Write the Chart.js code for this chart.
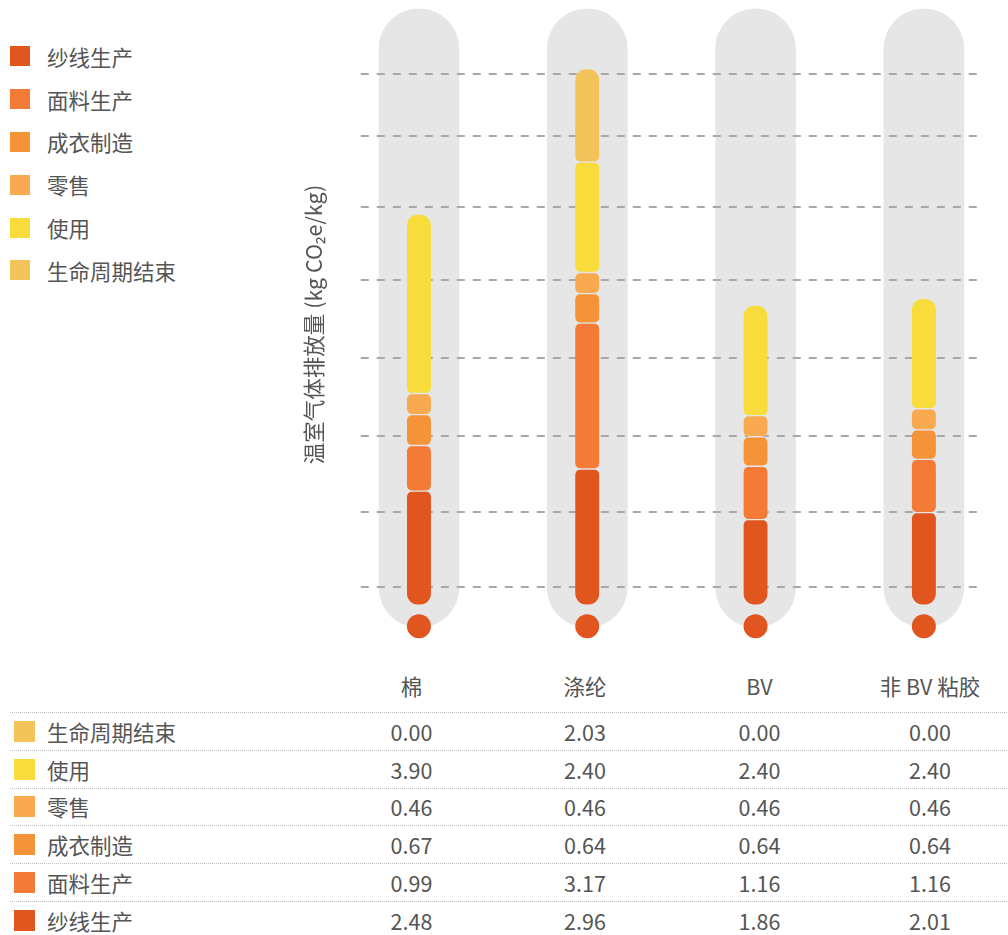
<!DOCTYPE html>
<html>
<head>
<meta charset="utf-8">
<script src="https://cdn.jsdelivr.net/npm/chart.js@4"></script>
<style>
  body { margin: 0; width: 1008px; height: 935px; overflow: hidden; position: relative; background: #fff;
         font-family: "Noto Sans CJK SC", "Noto Sans", sans-serif; color: #555; }
  #chartBox { position: absolute; left: 0; top: 0; width: 1008px; height: 642px; }
  #legend { position: absolute; left: 10px; top: 35px; }
  .item { display: flex; align-items: center; height: 42.8px; font-size: 21.5px; }
  .item .sw { width: 20px; height: 20px; margin-right: 17px; }
  #table { position: absolute; left: 10px; top: 659px; width: 1003px; font-size: 21.5px; }
  .row { display: flex; align-items: center; box-sizing: border-box; height: 37.8px; border-top: 1px dotted #bdbdbd; }
  .row.head { height: 53px; border-top: none; }
  .cell { text-align: center; }
  .label { width: 315px; display: flex; align-items: center; }
  .label .sw { width: 21px; height: 21px; margin-left: 4px; margin-right: 12px; }
</style>
</head>
<body>
<div id="legend"></div>
<div id="chartBox"><canvas id="chart"></canvas></div>
<div id="table"></div>
<script>
// data
const categories = ['棉', '涤纶', 'BV', '非 BV 粘胶'];
const stages = ['纱线生产', '面料生产', '成衣制造', '零售', '使用', '生命周期结束'];
const yarn      = [2.48, 2.96, 1.86, 2.01];
const fabric    = [0.99, 3.17, 1.16, 1.16];
const garment   = [0.67, 0.64, 0.64, 0.64];
const retail    = [0.46, 0.46, 0.46, 0.46];
const use       = [3.90, 2.40, 2.40, 2.40];
const endOfLife = [0.00, 2.03, 0.00, 0.00];
const gridValues = [0.40, 2.03, 3.68, 5.37, 7.07, 8.66, 10.20, 11.55];

const series = [yarn, fabric, garment, retail, use, endOfLife];
const colors = ['#E0561E', '#F37A37', '#F59339', '#F9AA50', '#F7DC3B', '#F2C45A'];
const pillGray = '#E6E6E6';

// legend
const legend = document.getElementById('legend');
stages.forEach((s, k) => {
  legend.innerHTML += `<div class="item"><span class="sw" style="background:${colors[k]}"></span>${s}</div>`;
});

// table (top row = last stage)
const table = document.getElementById('table');
const widths = [173, 174, 175, 166];
let html = '<div class="row head"><div class="label"></div>' +
  categories.map((c, i) => `<div class="cell" style="width:${widths[i]}px">${c}</div>`).join('') + '</div>';
for (let k = stages.length - 1; k >= 0; k--) {
  html += `<div class="row"><div class="label"><span class="sw" style="background:${colors[k]}"></span>${stages[k]}</div>` +
    series[k].map((v, i) => `<div class="cell" style="width:${widths[i]}px">${v.toFixed(2)}</div>`).join('') + '</div>';
}
table.innerHTML = html;

// rounded ends only on the outermost non-zero segments
function segRadius(ctx) {
  const i = ctx.dataIndex, d = ctx.datasetIndex;
  const filled = series.map((s, k) => s[i] > 0 ? k : -1).filter(k => k >= 0);
  const bottom = filled[0], top = filled[filled.length - 1];
  const r = 6, R = 12;
  return {
    topLeft: d === top ? R : r, topRight: d === top ? R : r,
    bottomLeft: d === bottom ? R : r, bottomRight: d === bottom ? R : r
  };
}

const segments = series.map((s, k) => ({
  label: stages[k],
  data: s.map(v => v === 0 ? null : v),
  backgroundColor: colors[k],
  borderColor: pillGray,
  borderWidth: { top: 1, bottom: 1, left: 0, right: 0 },
  borderSkipped: false,
  borderRadius: segRadius,
  barThickness: 24,
  order: 1
}));

// grey capsule behind each column
const pills = {
  label: 'bg',
  data: categories.map(() => [-0.48, 12.96]),
  stack: 'bg',
  grouped: false,
  backgroundColor: pillGray,
  borderWidth: 0,
  borderSkipped: false,
  borderRadius: 40,
  barThickness: 80,
  order: 2
};

const dots = {
  type: 'line',
  label: 'dot',
  data: categories.map(() => -0.46),
  showLine: false,
  pointRadius: 12,
  pointHoverRadius: 12,
  pointBorderWidth: 0,
  pointBackgroundColor: colors[0],
  order: 0
};

const dashLines = {
  id: 'dashLines',
  afterDatasetDraw(chart, args) {
    if (args.index !== series.length) return;
    const { ctx, chartArea } = chart;
    const y = chart.scales.y;
    ctx.save();
    ctx.strokeStyle = '#A8A8A8';
    ctx.lineWidth = 2;
    ctx.setLineDash([8, 8]);
    gridValues.forEach(v => {
      const py = Math.round(y.getPixelForValue(v));
      ctx.beginPath();
      ctx.moveTo(chartArea.left + 26, py);
      ctx.lineTo(chartArea.right - 31, py);
      ctx.stroke();
    });
    ctx.restore();
  }
};

new Chart(document.getElementById('chart'), {
  type: 'bar',
  data: { labels: categories, datasets: [...segments, pills, dots] },
  plugins: [dashLines],
  options: {
    responsive: true,
    maintainAspectRatio: false,
    animation: false,
    events: [],
    layout: { autoPadding: false, padding: { left: 301, top: 7, right: 0, bottom: 0 } },
    plugins: { legend: { display: false }, tooltip: { enabled: false } },
    scales: {
      x: { display: false, stacked: true, offset: true },
      y: {
        stacked: true,
        min: -0.8,
        max: 13,
        ticks: { display: false },
        grid: { display: false, drawTicks: false },
        border: { display: false },
        title: {
          display: true,
          text: '温室气体排放量 (kg CO₂e/kg)',
          color: '#555',
          font: { family: '"Noto Sans CJK SC", "Noto Sans", sans-serif', size: 21.5, lineHeight: 1.2 },
          padding: { top: 0, bottom: 8 }
        }
      }
    }
  }
});
</script>
</body>
</html>
